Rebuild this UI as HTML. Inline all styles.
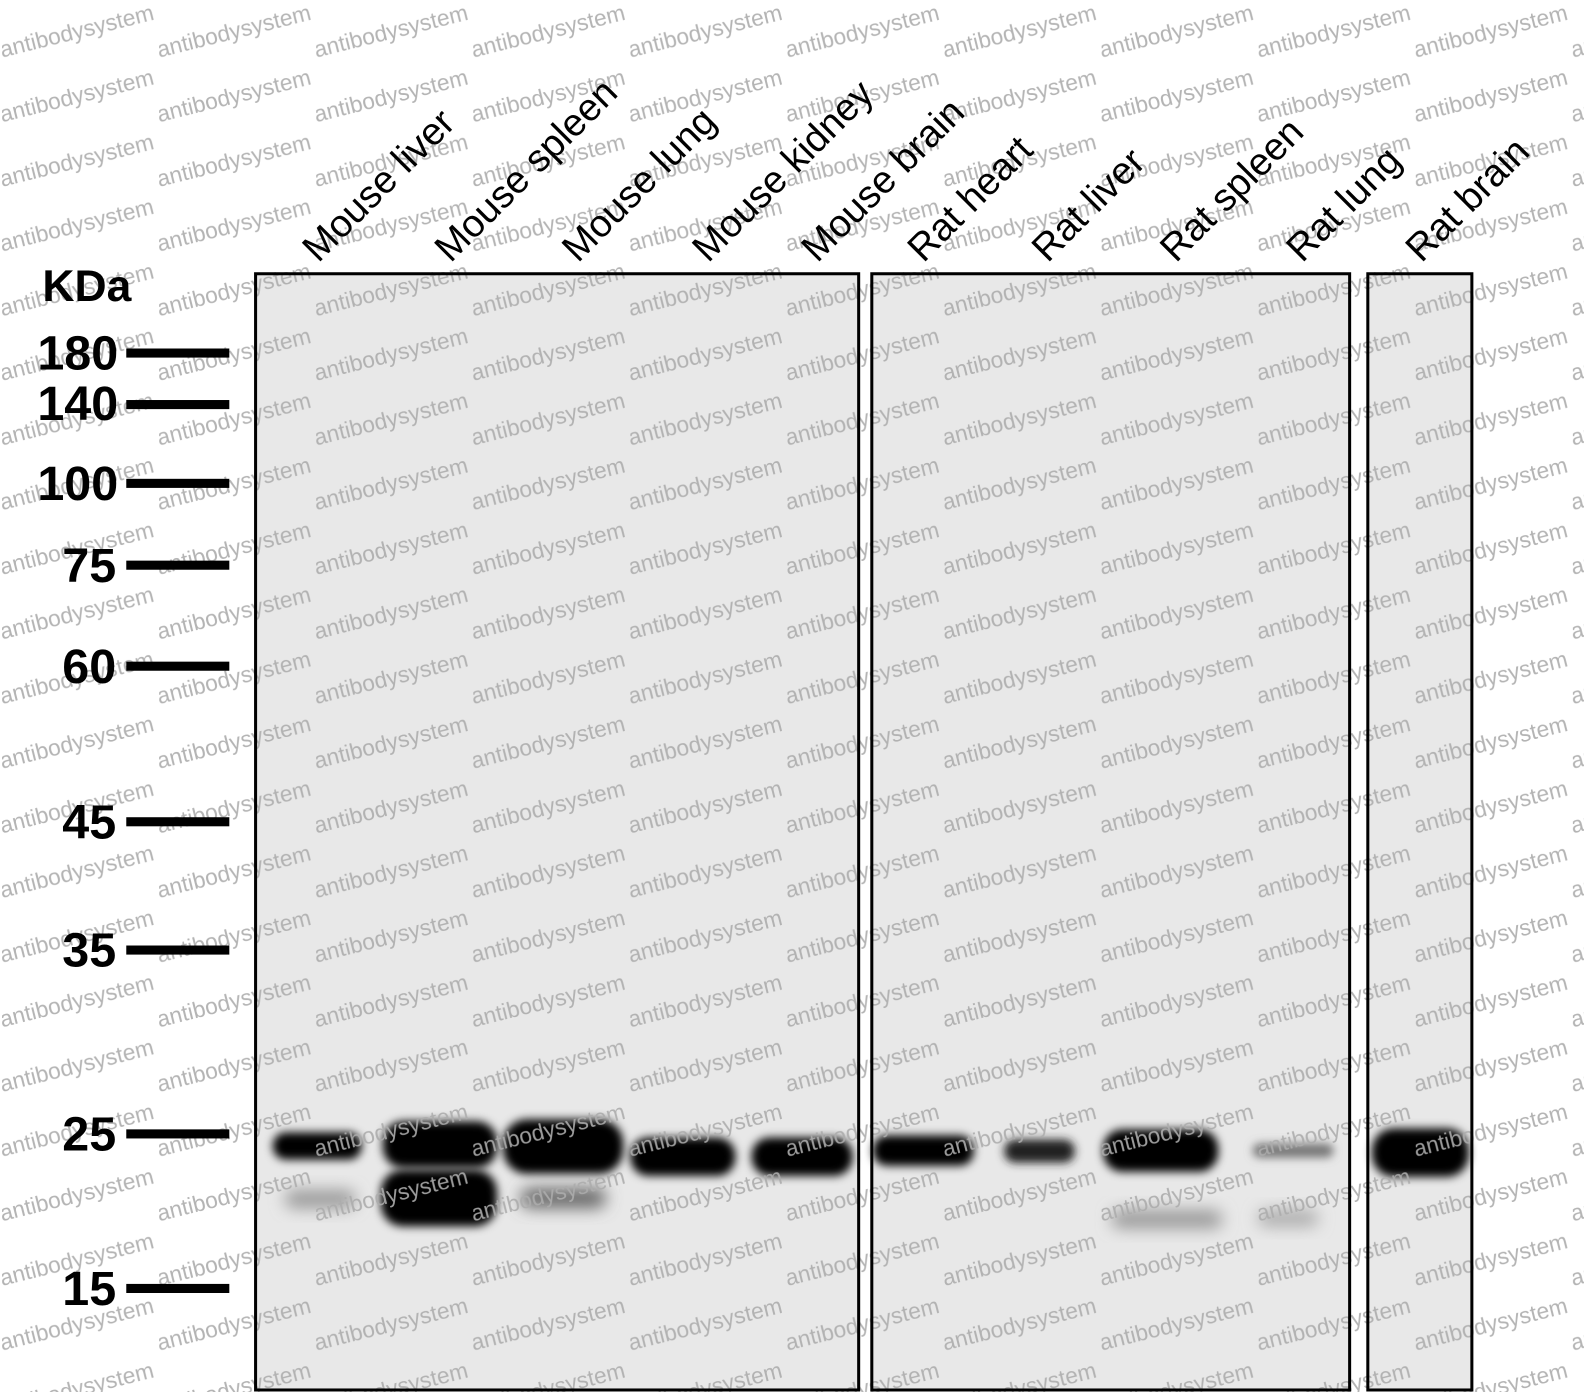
<!DOCTYPE html>
<html><head><meta charset="utf-8"><style>
body{margin:0;background:#fff}
svg{display:block}
</style></head><body>
<svg width="1584" height="1392" viewBox="0 0 1568 1378" preserveAspectRatio="none" xmlns="http://www.w3.org/2000/svg" font-family="Liberation Sans, Arial, sans-serif">
<defs>
<filter id="b" x="-30%" y="-80%" width="160%" height="260%"><feGaussianBlur stdDeviation="4.5"/></filter>
<filter id="b2" x="-30%" y="-80%" width="160%" height="260%"><feGaussianBlur stdDeviation="8"/></filter>
<pattern id="wm" patternUnits="userSpaceOnUse" x="2" y="0" width="155.5" height="64">
<text x="0" y="57" font-size="22.5" fill="#acacac" transform="rotate(-14 0 57)">antibodysystem</text>
</pattern>
</defs>
<rect width="1568" height="1378" fill="#fff"/>
<rect x="253" y="271" width="597" height="1105" fill="#e8e8e8"/>
<rect x="863" y="271" width="473" height="1105" fill="#e8e8e8"/>
<rect x="1354" y="271" width="103" height="1105" fill="#e8e8e8"/>
<g fill="#000">
<rect x="270" y="1121" width="88" height="27" rx="13" filter="url(#b)"/>
<rect x="282" y="1178" width="70" height="18" rx="9" fill="#999" filter="url(#b2)"/>
<rect x="379" y="1110" width="113" height="46" rx="20" filter="url(#b)"/>
<rect x="377" y="1158" width="115" height="56" rx="22" filter="url(#b)"/>
<rect x="498" y="1108" width="119" height="54" rx="24" filter="url(#b)"/>
<rect x="515" y="1176" width="85" height="20" rx="10" fill="#666" filter="url(#b2)"/>
<rect x="624" y="1126" width="104" height="38" rx="18" filter="url(#b)"/>
<rect x="744" y="1126" width="100" height="38" rx="18" filter="url(#b)"/>
<rect x="864" y="1124" width="100" height="30" rx="14" filter="url(#b)"/>
<rect x="994" y="1128" width="70" height="23" rx="11" fill="#222" filter="url(#b)"/>
<rect x="1092" y="1118" width="114" height="42" rx="19" filter="url(#b)"/>
<rect x="1240" y="1132" width="80" height="14" rx="7" fill="#777" filter="url(#b)"/>
<rect x="1100" y="1198" width="110" height="18" rx="9" fill="#999" filter="url(#b2)"/>
<rect x="1245" y="1198" width="60" height="16" rx="8" fill="#aaa" filter="url(#b2)"/>
<rect x="1358" y="1117" width="96" height="48" rx="22" filter="url(#b)"/>
</g>
<rect width="1568" height="1378" fill="url(#wm)" opacity="0.9"/>
<g fill="none" stroke="#000" stroke-width="3">
<rect x="253" y="271" width="597" height="1105"/>
<rect x="863" y="271" width="473" height="1105"/>
<rect x="1354" y="271" width="103" height="1105"/>
</g>
<text x="42" y="298" font-size="44" font-weight="bold">KDa</text>
<g font-size="48" font-weight="bold" text-anchor="end">
<text x="117" y="366">180</text>
<text x="117" y="416">140</text>
<text x="117" y="495">100</text>
<text x="115" y="576">75</text>
<text x="115" y="676">60</text>
<text x="115" y="830">45</text>
<text x="115" y="957">35</text>
<text x="115" y="1139">25</text>
<text x="115" y="1292">15</text>
</g>
<g fill="#000">
<rect x="125" y="345" width="102" height="9"/>
<rect x="125" y="396" width="102" height="9"/>
<rect x="125" y="474" width="102" height="9"/>
<rect x="125" y="555" width="102" height="9"/>
<rect x="125" y="655" width="102" height="9"/>
<rect x="125" y="809" width="102" height="9"/>
<rect x="125" y="936" width="102" height="9"/>
<rect x="125" y="1118" width="102" height="9"/>
<rect x="125" y="1271" width="102" height="9"/>
</g>
<g font-size="38" fill="#000">
<text transform="translate(315,261) rotate(-45)">Mouse liver</text>
<text transform="translate(446,261) rotate(-45)">Mouse spleen</text>
<text transform="translate(572,261) rotate(-45)">Mouse lung</text>
<text transform="translate(701,261) rotate(-45)">Mouse kidney</text>
<text transform="translate(809,261) rotate(-45)">Mouse brain</text>
<text transform="translate(914,261) rotate(-45)">Rat heart</text>
<text transform="translate(1037,261) rotate(-45)">Rat liver</text>
<text transform="translate(1164,261) rotate(-45)">Rat spleen</text>
<text transform="translate(1289,261) rotate(-45)">Rat lung</text>
<text transform="translate(1407,261) rotate(-45)">Rat brain</text>
</g>
</svg>
</body></html>
